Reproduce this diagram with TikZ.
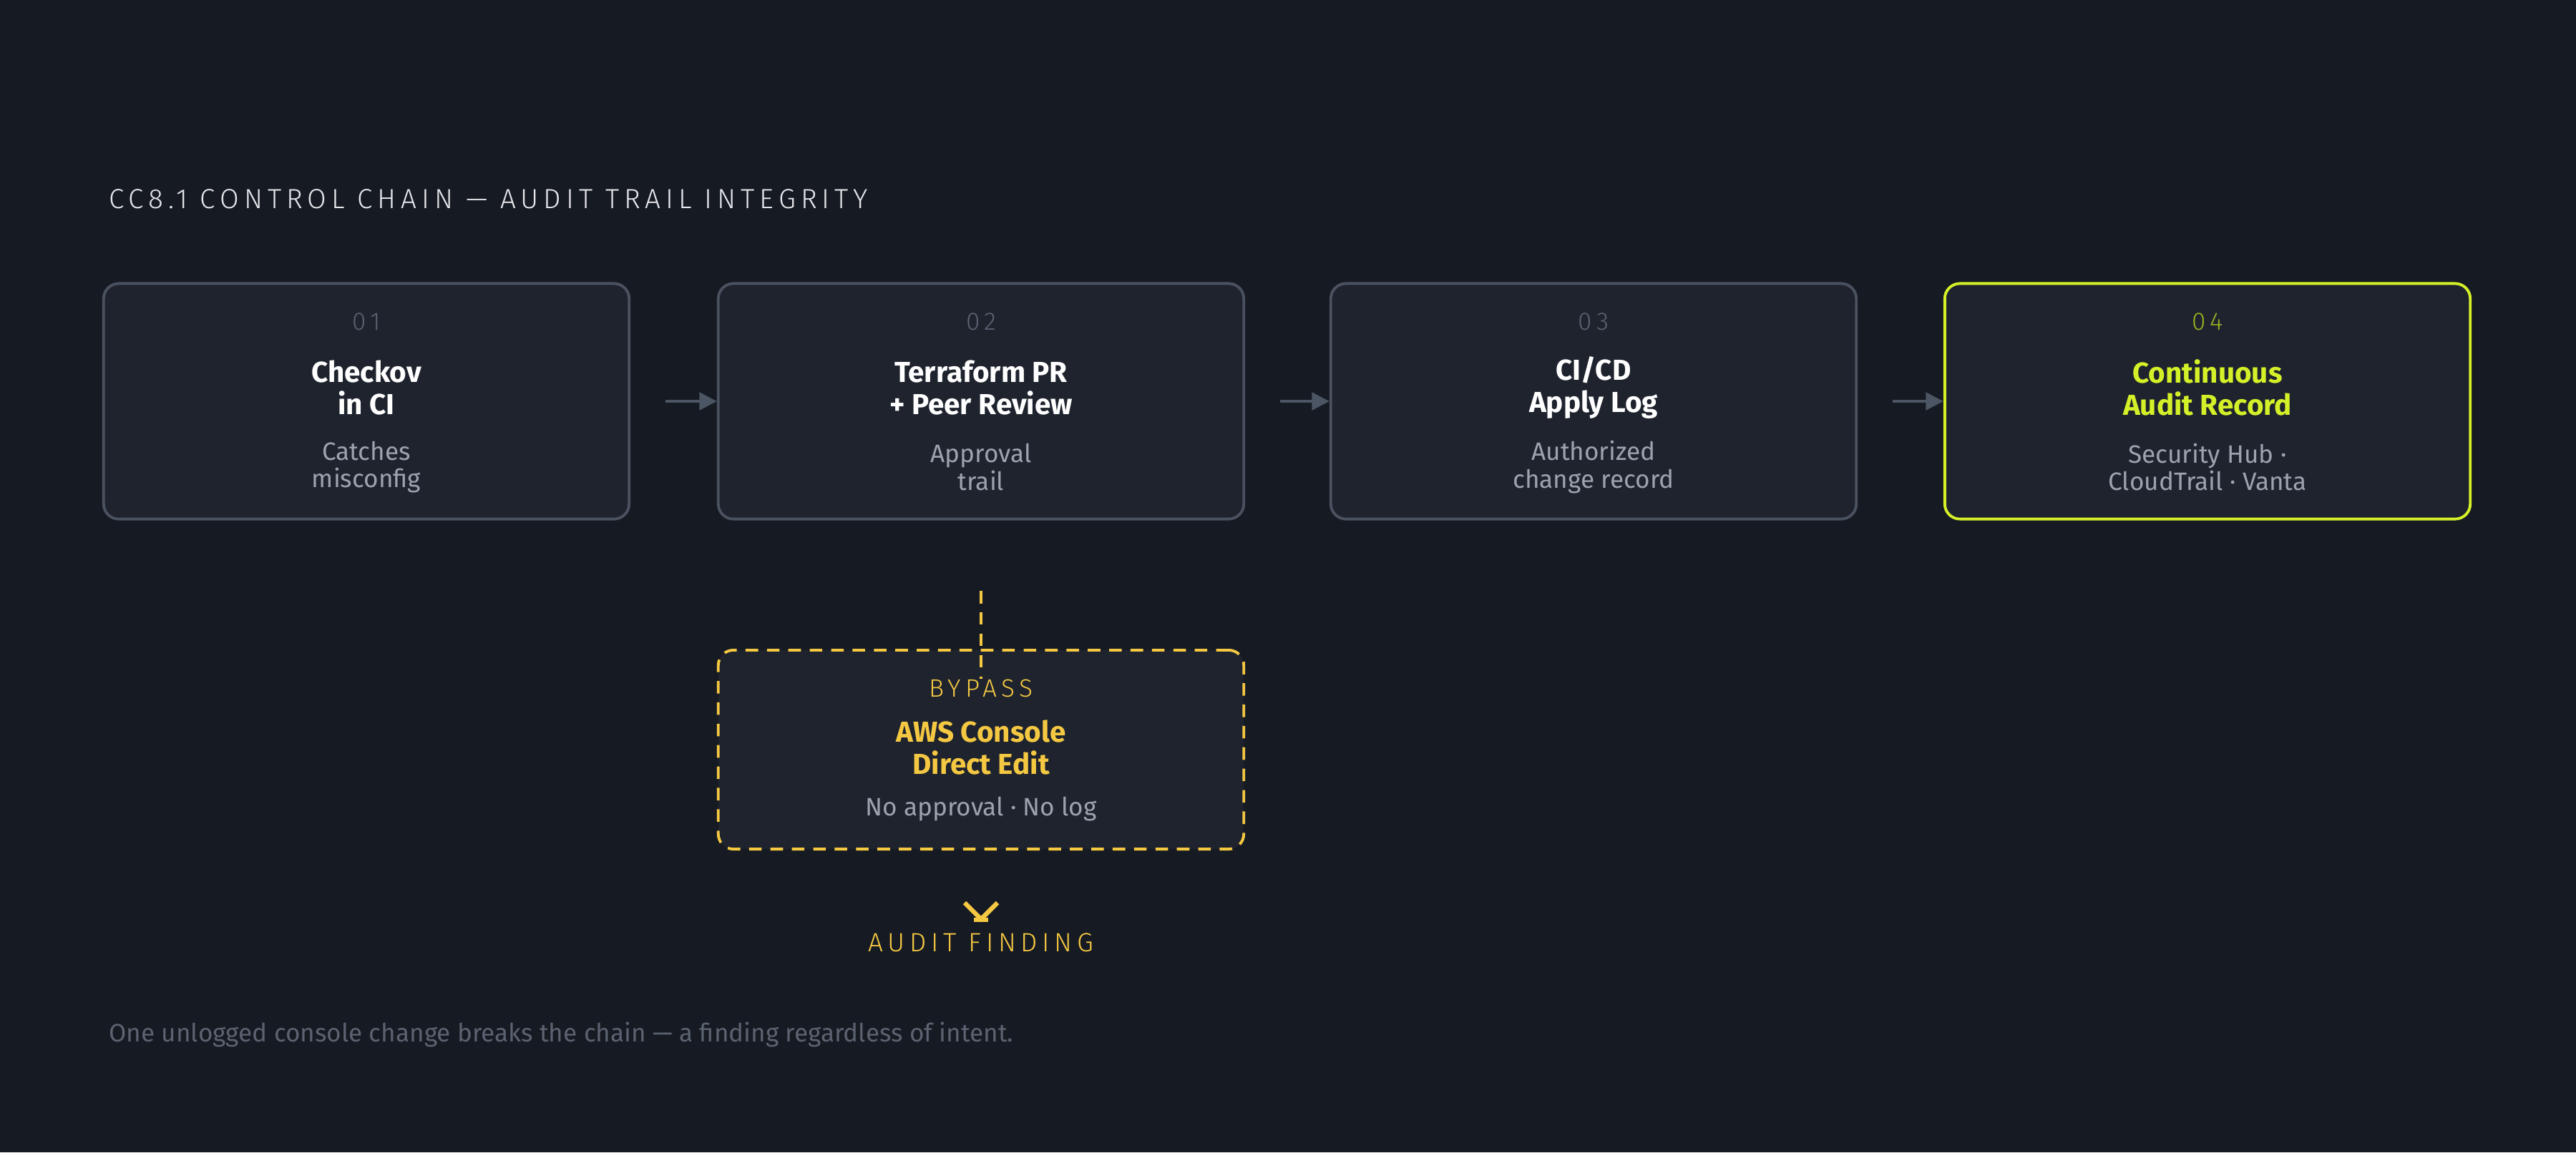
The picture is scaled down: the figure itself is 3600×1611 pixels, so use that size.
\documentclass[tikz,border=0pt]{standalone}
\usepackage{fontspec}
\setmainfont{Fira Sans}
\newfontfamily\capsfont[LetterSpace=18]{Fira Sans Light}
\usetikzlibrary{positioning,arrows.meta}
\definecolor{bgcol}{HTML}{161A22}
\definecolor{boxfill}{HTML}{1E232E}
\definecolor{boxline}{HTML}{4A5260}
\definecolor{arrcol}{HTML}{4B5563}
\definecolor{lime}{HTML}{D4F028}
\definecolor{limedim}{HTML}{9AB020}
\definecolor{amber}{HTML}{F5C842}
\definecolor{desccol}{HTML}{9CA3AF}
\definecolor{numcol}{HTML}{5B6270}
\definecolor{headcol}{HTML}{E5E7EB}
\tikzset{
	stage/.style={rectangle,rounded corners=6pt,fill=boxfill,draw=boxline,line width=1.1pt,minimum width=7.34cm,minimum height=3.29cm},
	hotstage/.style={stage,draw=lime},
	bypassbox/.style={stage,draw=amber,dashed,dash pattern=on 5pt off 3.5pt,minimum height=2.78cm},
	stepnum/.style={font=\capsfont\fontsize{10}{12}\selectfont,text=numcol},
	steptitle/.style={font=\bfseries\fontsize{11.5}{13}\selectfont,text=white,align=center},
	stepdesc/.style={font=\fontsize{10}{11}\selectfont,text=desccol,align=center},
	flow/.style={-{Triangle[width=7pt,length=7pt]},color=arrcol,line width=1.2pt}
}
\begin{document}
\begin{tikzpicture}[x=0.01cm,y=-0.01cm]
	\fill[bgcol] (0,0) rectangle (3600,1611);
	\useasboundingbox (0,0) rectangle (3600,1611);

	\node[anchor=west,font=\capsfont\fontsize{11}{13}\selectfont,text=headcol] (T) at (140,278) {CC8.1 CONTROL CHAIN — AUDIT TRAIL INTEGRITY};

	\node[stage] (S1) at (512,561) {};
	\node[stage] (S2) at (1371,561) {};
	\node[stage] (S3) at (2227,561) {};
	\node[hotstage] (S4) at (3085,561) {};
	\node[bypassbox] (B) at (1371,1048) {};

	\node[stepnum] at (512,450) {01};
	\node[steptitle] at (512,542) {Checkov\\in CI};
	\node[stepdesc] at (512,653) {Catches\\misconfig};

	\node[stepnum] at (1371,450) {02};
	\node[steptitle] at (1371,542) {Terraform PR\\+ Peer Review};
	\node[stepdesc] at (1371,653) {Approval\\trail};

	\node[stepnum] at (2227,450) {03};
	\node[steptitle] at (2227,542) {CI/CD\\Apply Log};
	\node[stepdesc] at (2227,653) {Authorized\\change record};

	\node[stepnum,text=limedim] at (3085,450) {04};
	\node[steptitle,text=lime] at (3085,542) {Continuous\\Audit Record};
	\node[stepdesc] at (3085,653) {Security Hub ·\\CloudTrail · Vanta};

	\node[stepnum,text=amber] at (1371,962) {BYPASS};
	\node[steptitle,text=amber] at (1371,1045) {AWS Console\\Direct Edit};
	\node[stepdesc] at (1371,1131) {No approval · No log};

	\draw[flow] ([xshift=14]S1.east) -- (S2.west);
	\draw[flow] ([xshift=14]S2.east) -- (S3.west);
	\draw[flow] ([xshift=14]S3.east) -- (S4.west);

	\coordinate (cut) at (1371,826);
	\draw[amber,line width=1.2pt,dash pattern=on 5pt off 3.5pt] (cut) -- ([yshift=-12]B.north);

	% finding marker
	\draw[amber,line width=1.8pt] (1348,1262) -- (1371,1285) -- (1394,1262);
	\draw[amber,line width=1.6pt] (1361,1286) -- (1381,1286);
	\node[font=\capsfont\fontsize{10.5}{12}\selectfont,text=amber] (F) at (1371,1318) {AUDIT FINDING};

	\node[anchor=west,font=\fontsize{10}{12}\selectfont,text=numcol] (N) at (140,1446) {One unlogged console change breaks the chain — a finding regardless of intent.};
\end{tikzpicture}
\end{document}
